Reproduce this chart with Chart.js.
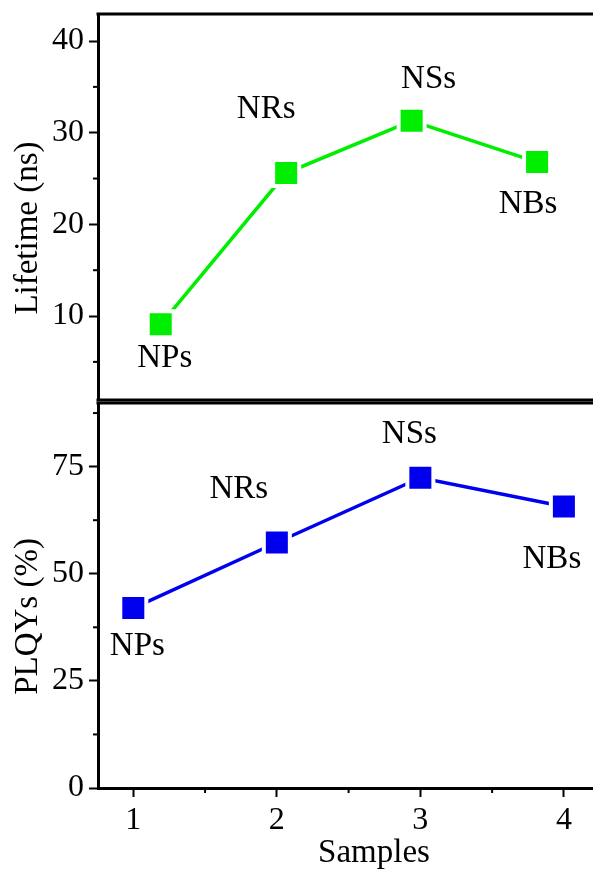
<!DOCTYPE html>
<html>
<head>
<meta charset="utf-8">
<script src="https://cdn.jsdelivr.net/npm/chart.js@4.4.0/dist/chart.umd.min.js"></script>
<style>
  html, body { margin: 0; padding: 0; background: #fff; overflow: hidden; width: 593px; height: 873px; position: relative; }
  canvas { position: absolute; left: 0; }
  #lifetimeChart { top: -9px; }
  #plqyChart { top: 380px; }
</style>
</head>
<body>
<canvas id="lifetimeChart" width="673" height="432"></canvas>
<canvas id="plqyChart" width="673" height="493"></canvas>
<script>
// --- Data ---
const samples = [1, 2, 3, 4];
const sampleNames = ['NPs', 'NRs', 'NSs', 'NBs'];
const lifetimeNs = [9.1, 25.6, 31.3, 26.8];
const plqyPercent = [42.0, 57.3, 72.4, 65.7];

const lifetimeTicks = [10, 20, 30, 40];
const lifetimeMinorTicks = [5, 15, 25, 35];
const plqyTicks = [0, 25, 50, 75];
const plqyMinorTicks = [12.5, 37.5, 62.5, 87.5];
const sampleTicks = [1, 2, 3, 4];
const sampleMinorTicks = [1.5, 2.5, 3.5];

const FONT = "'Liberation Serif', 'Times New Roman', serif";
// big square markers make Chart.js keep ~22px free round the plot, so pad a bit more than that ourselves
const PAD = 23;

// --- Extra drawing: frame lines, minor ticks, axis titles, point labels ---
const decorPlugin = {
    id: 'decor',
    afterDatasetsDraw(chart, args, opts) {
        const ctx = chart.ctx;
        const a = chart.chartArea;
        ctx.save();

        // frame lines (top / bottom of the panel)
        ctx.strokeStyle = '#000';
        ctx.lineWidth = 3;
        opts.frame.forEach(side => {
            ctx.beginPath();
            ctx.moveTo(a.left - 1.5, a[side]);
            ctx.lineTo(a.right, a[side]);
            ctx.stroke();
        });

        // minor ticks
        ctx.lineWidth = 2;
        const ys = chart.scales.y;
        opts.yMinor.forEach(v => {
            const py = ys.getPixelForValue(v);
            ctx.beginPath();
            ctx.moveTo(a.left - 5, py);
            ctx.lineTo(a.left, py);
            ctx.stroke();
        });
        if (opts.xMinor) {
            const xs = chart.scales.x;
            opts.xMinor.forEach(v => {
                const px = xs.getPixelForValue(v);
                ctx.beginPath();
                ctx.moveTo(px, a.bottom);
                ctx.lineTo(px, a.bottom + 5);
                ctx.stroke();
            });
        }

        // point labels
        ctx.fillStyle = '#000';
        ctx.font = '33px ' + FONT;
        ctx.textAlign = 'center';
        ctx.textBaseline = 'alphabetic';
        const meta = chart.getDatasetMeta(0);
        meta.data.forEach((pt, i) => {
            const off = opts.labelOffsets[i];
            ctx.fillText(sampleNames[i], pt.x + off[0], pt.y + off[1]);
        });

        // y axis title
        ctx.save();
        ctx.translate(a.left - 61, (a.top + a.bottom) / 2 + 21);
        ctx.rotate(-Math.PI / 2);
        ctx.fillText(opts.yTitle, 0, 0);
        ctx.restore();

        // x axis title
        if (opts.xTitle) {
            ctx.fillText(opts.xTitle, (a.left + a.right) / 2, a.bottom + 74);
        }
        ctx.restore();
    }
};

function noPadding(scale) {
    scale.paddingTop = 0;
    scale.paddingBottom = 0;
    scale.paddingLeft = 0;
    scale.paddingRight = 0;
}

function yAxis(min, max, tickValues) {
    return {
        type: 'linear',
        min: min,
        max: max,
        afterFit: scale => { scale.width = 98 - PAD; noPadding(scale); },
        afterBuildTicks: scale => { scale.ticks = tickValues.map(v => ({ value: v })); },
        border: { display: true, width: 3, color: '#000' },
        grid: { display: true, drawOnChartArea: false, drawTicks: true, tickLength: 9, tickWidth: 2, tickColor: '#000' },
        ticks: { color: '#000', padding: 5, font: { family: FONT, size: 32 } }
    };
}

// --- Top panel: Lifetime ---
new Chart(document.getElementById('lifetimeChart'), {
    type: 'line',
    data: {
        labels: sampleNames,
        datasets: [{
            data: samples.map((s, i) => ({ x: s, y: lifetimeNs[i] })),
            borderColor: '#00ee00',
            borderWidth: 3.5,
            backgroundColor: '#00ee00',
            pointStyle: 'rect',
            pointRadius: 18.4,
            pointBorderWidth: 4,
            pointBorderColor: '#fff',
            pointBackgroundColor: '#00ee00',
            tension: 0
        }]
    },
    plugins: [decorPlugin],
    options: {
        responsive: false,
        devicePixelRatio: 1,
        animation: false,
        events: [],
        layout: { padding: PAD },
        scales: {
            x: { type: 'linear', min: 0.5, max: 4.9, display: false },
            y: yAxis(0.84, 42.95, lifetimeTicks)
        },
        plugins: {
            legend: { display: false },
            tooltip: { enabled: false },
            decor: {
                frame: ['top', 'bottom'],
                yMinor: lifetimeMinorTicks,
                yTitle: 'Lifetime (ns)',
                labelOffsets: [[4, 43], [-20, -55], [17, -33], [-9, 51]]
            }
        }
    }
});

// --- Bottom panel: PLQYs ---
new Chart(document.getElementById('plqyChart'), {
    type: 'line',
    data: {
        labels: sampleNames,
        datasets: [{
            data: samples.map((s, i) => ({ x: s, y: plqyPercent[i] })),
            borderColor: '#0000ee',
            borderWidth: 3.5,
            backgroundColor: '#0000ee',
            pointStyle: 'rect',
            pointRadius: 18.4,
            pointBorderWidth: 4,
            pointBorderColor: '#fff',
            pointBackgroundColor: '#0000ee',
            tension: 0
        }]
    },
    plugins: [decorPlugin],
    options: {
        responsive: false,
        devicePixelRatio: 1,
        animation: false,
        events: [],
        layout: { padding: PAD },
        scales: {
            x: {
                type: 'linear',
                min: 0.754,
                max: 4.6,
                afterFit: scale => { scale.height = 62; noPadding(scale); },
                afterBuildTicks: scale => { scale.ticks = sampleTicks.map(v => ({ value: v })); },
                border: { display: true, width: 3, color: '#000' },
                grid: { display: true, drawOnChartArea: false, drawTicks: true, tickLength: 9, tickWidth: 2, tickColor: '#000' },
                ticks: { color: '#000', padding: 4, maxRotation: 0, font: { family: FONT, size: 32 } }
            },
            y: yAxis(0, 89.85, plqyTicks)
        },
        plugins: {
            legend: { display: false },
            tooltip: { enabled: false },
            decor: {
                frame: ['top'],
                yMinor: plqyMinorTicks,
                xMinor: sampleMinorTicks,
                yTitle: 'PLQYs (%)',
                xTitle: 'Samples',
                labelOffsets: [[4, 47], [-38, -44], [-11, -35], [-12, 62]]
            }
        }
    }
});
</script>
</body>
</html>
